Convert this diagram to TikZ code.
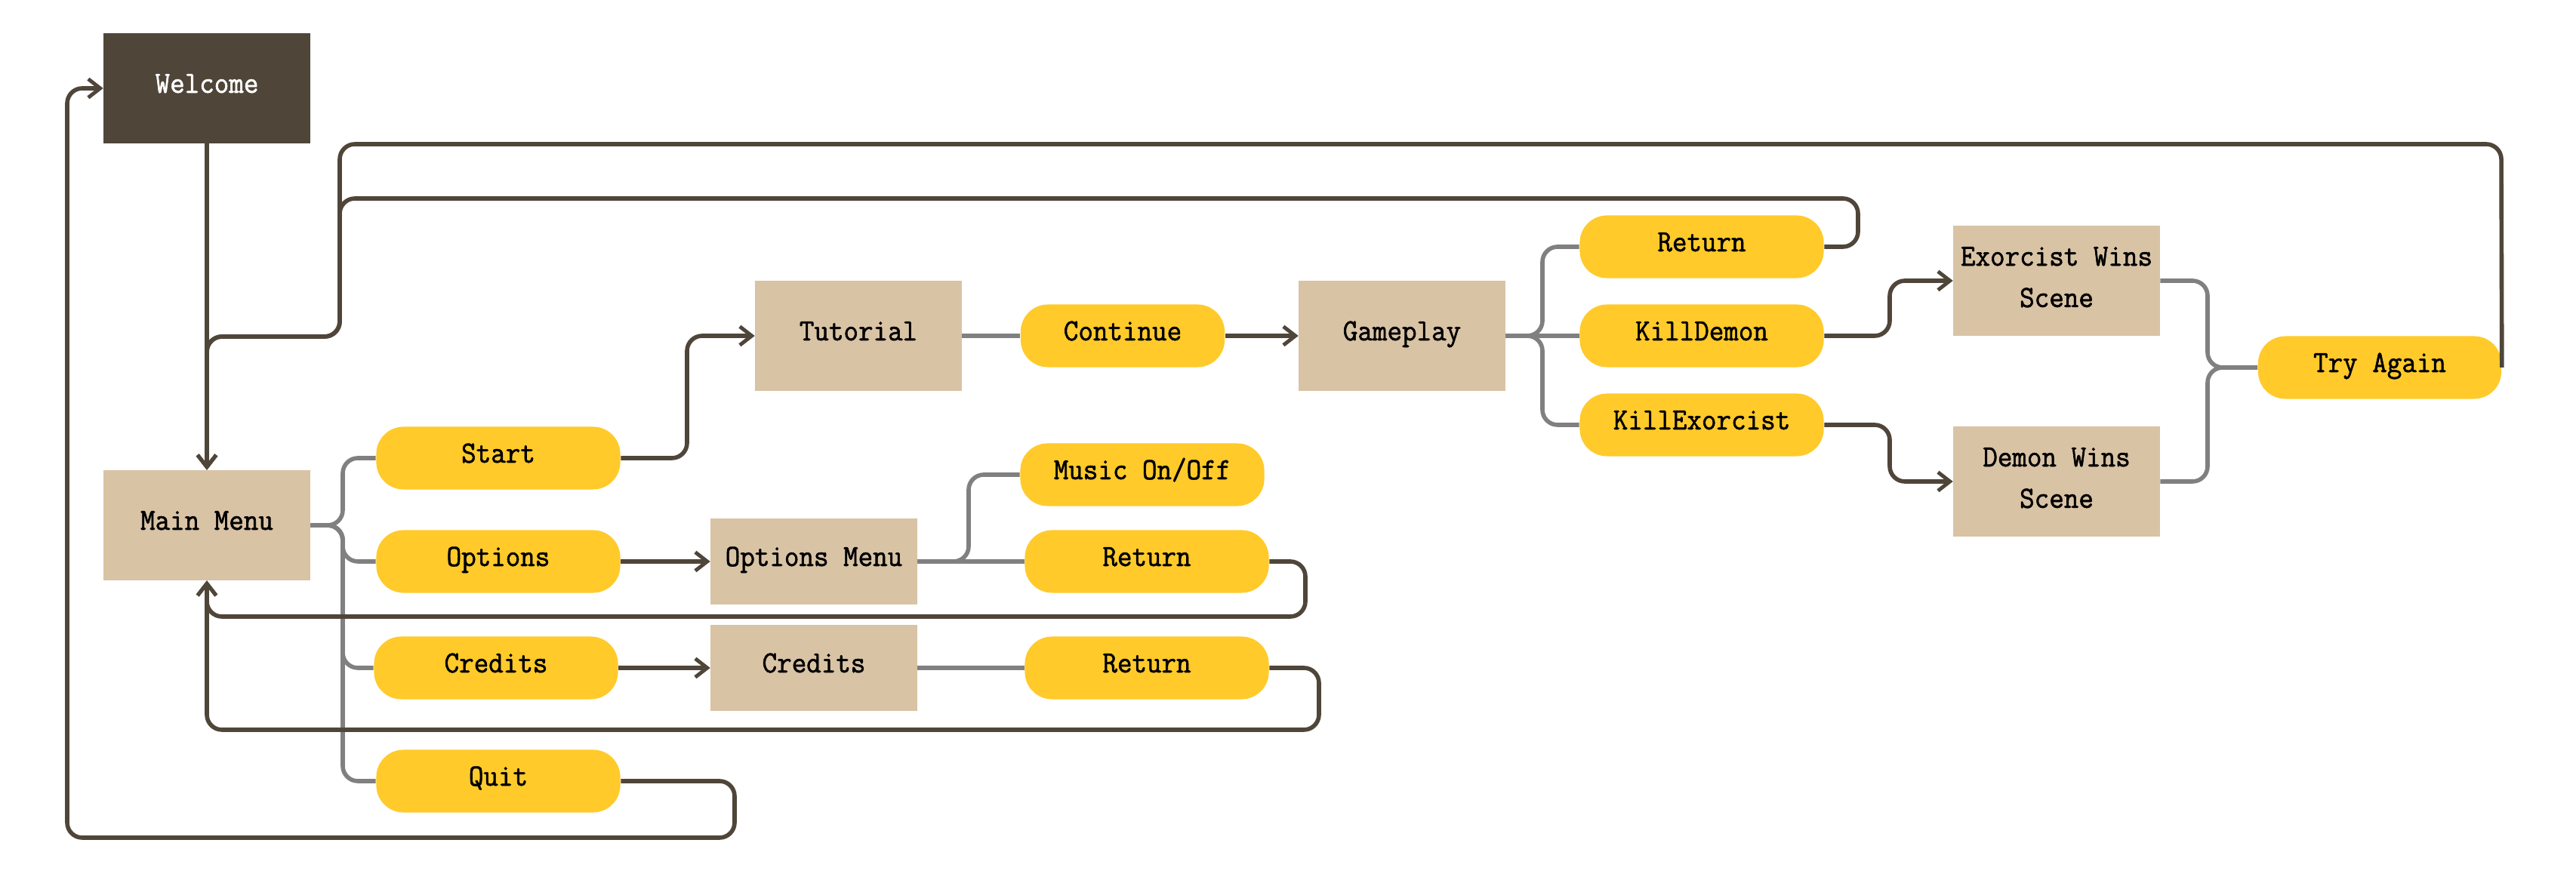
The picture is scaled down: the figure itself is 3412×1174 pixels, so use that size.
\documentclass[tikz,border=0pt]{standalone}
\usepackage{fontspec}
\setmonofont{Latin Modern Mono}[FakeBold=1.5, FakeStretch=0.93]
\usetikzlibrary{arrows.meta}
\definecolor{dark}{HTML}{4F4539}
\definecolor{tan}{HTML}{D9C3A5}
\definecolor{gold}{HTML}{FFCA2A}
\definecolor{link}{HTML}{808080}
\begin{document}
\begin{tikzpicture}[x=0.01cm,y=-0.01cm,
  every node/.style={font=\ttfamily\bfseries\fontsize{11.6}{15.6}\selectfont, inner sep=0pt},
  oneline/.style={text height=0.24cm, text depth=0.12cm},
  box/.style={fill=tan, minimum width=2.73cm, minimum height=1.45cm, align=center, oneline},
  scene/.style={fill=tan, minimum width=2.73cm, minimum height=1.45cm, align=center, text depth=0.1cm},
  pill/.style={fill=gold, rounded corners=0.36cm, minimum width=3.23cm, minimum height=0.83cm, oneline},
  flow/.style={draw=dark, line width=1.6pt, rounded corners=0.2cm},
  branch/.style={draw=link, line width=1.6pt, rounded corners=0.2cm},
  tip/.style={-{Straight Barb[length=4.5pt,width=7pt,line width=1.4pt]}}]
\useasboundingbox (0,0) rectangle (3412,1174);

% screens
\node[box, fill=dark, text=white] (welcome) at (274,117) {Welcome};
\node[box] (main) at (274,696) {Main Menu};
\node[box] (tutorial) at (1137,445) {Tutorial};
\node[box] (game) at (1857,445) {Gameplay};
\node[box, minimum height=1.13cm] (optmenu) at (1078,744) {Options Menu};
\node[box, minimum height=1.14cm] (credbox) at (1078,885) {Credits};
\node[scene] (exo) at (2724,372) {Exorcist Wins\\Scene};
\node[scene] (dem) at (2724,638) {Demon Wins\\Scene};

% buttons
\node[pill] (start) at (660,607) {Start};
\node[pill] (options) at (660,744) {Options};
\node[pill] (credits) at (657,885) {Credits};
\node[pill] (quit) at (660,1035) {Quit};
\node[pill, minimum width=2.70cm] (cont) at (1487,445) {Continue};
\node[pill] (music) at (1513,629) {Music On/Off};
\node[pill] (retopt) at (1519,744) {Return};
\node[pill] (retcred) at (1519,885) {Return};
\node[pill] (retgame) at (2254,327) {Return};
\node[pill] (killd) at (2254,445) {KillDemon};
\node[pill] (kille) at (2254,563) {KillExorcist};
\node[pill, minimum width=3.22cm] (again) at (3152,487) {Try Again};

% main menu branches
\draw[branch] (main.east) -- (454,696) -- (454,607) -- (start.west);
\draw[branch] (main.east) -- (454,696) -- (454,744) -- (options.west);
\draw[branch] (main.east) -- (454,696) -- (454,885) -- (credits.west);
\draw[branch] (main.east) -- (454,696) -- (454,1035) -- (quit.west);

% options menu branches
\draw[branch] (optmenu.east) -- (1283,744) -- (1283,629) -- (music.west);
\draw[branch] (optmenu.east) -- (retopt.west);
\draw[branch] (credbox.east) -- (retcred.west);
\draw[branch] (tutorial.east) -- (cont.west);

% gameplay branches
\draw[branch] (game.east) -- (2043,445) -- (2043,327) -- (retgame.west);
\draw[branch] (game.east) -- (killd.west);
\draw[branch] (game.east) -- (2043,445) -- (2043,563) -- (kille.west);

% end scenes merge
\draw[branch] (exo.east) -- (2924,372) -- (2924,487) -- (again.west);
\draw[branch] (dem.east) -- (2924,638) -- (2924,487) -- (again.west);

% forward flow
\draw[flow, tip] (welcome.south) -- (main.north);
\draw[flow, tip] (start.east) -- (910,607) -- (910,445) -- (tutorial.west);
\draw[flow, tip] (options.east) -- (optmenu.west);
\draw[flow, tip] (credits.east) -- (credbox.west);
\draw[flow, tip] (cont.east) -- (game.west);
\draw[flow, tip] (killd.east) -- (2503,445) -- (2503,372) -- (exo.west);
\draw[flow, tip] (kille.east) -- (2503,563) -- (2503,638) -- (dem.west);

% return paths
\draw[flow, tip] (quit.east) -- (973,1035) -- (973,1110) -- (89,1110) -- (89,117) -- (welcome.west);
\draw[flow, tip] (retopt.east) -- (1729,744) -- (1729,817) -- (274,817) -- (main.south);
\draw[flow, tip] (retcred.east) -- (1747,885) -- (1747,967) -- (274,967) -- (main.south);
\draw[flow, tip] (retgame.east) -- (2461,327) -- (2461,263) -- (450,263) -- (450,446) -- (274,446) -- (main.north);
\draw[flow, tip] (again.east) -- (3313,191) -- (450,191) -- (450,446) -- (274,446) -- (main.north);
\end{tikzpicture}
\end{document}
